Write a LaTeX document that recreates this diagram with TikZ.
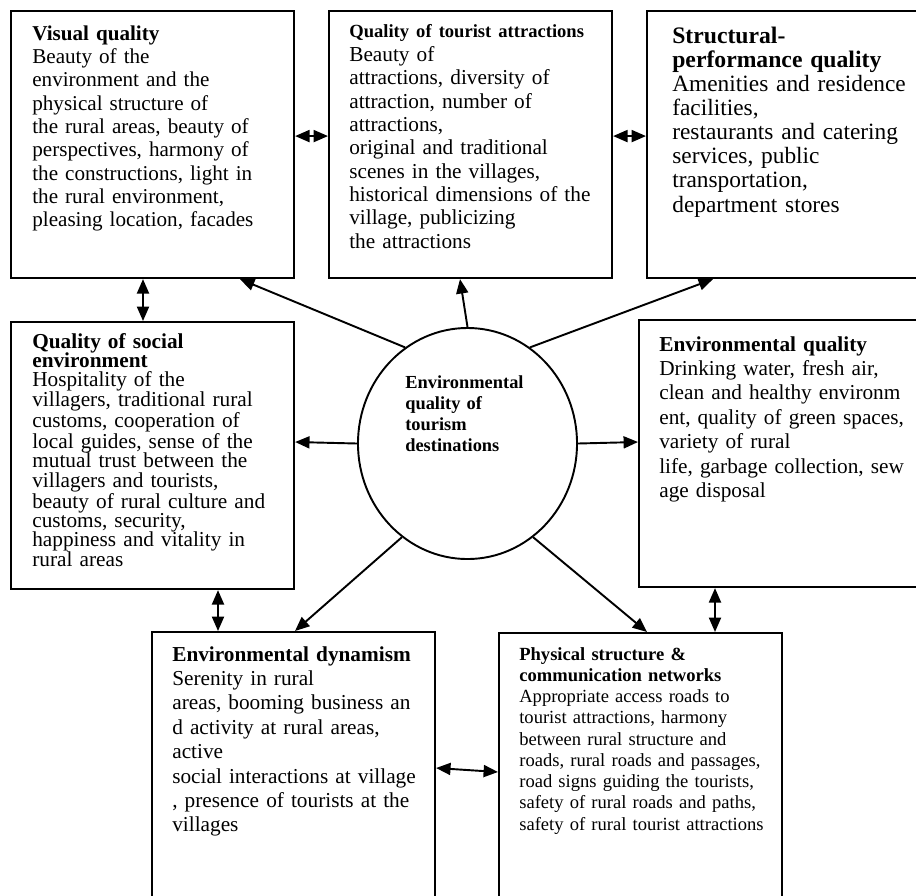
\documentclass[tikz,border=0pt]{standalone}
\usepackage{fontspec}
\setmainfont{Liberation Serif}
\usepackage{tikz}
\usetikzlibrary{arrows.meta,positioning,calc,shapes.geometric}

\begin{document}
\begin{tikzpicture}[
    x=0.625pt,y=-0.625pt,
    box/.style={rectangle,draw=black,line width=1.2pt,anchor=north west,minimum width=177pt,minimum height=167pt,inner sep=0pt},
    lowbox/.style={box,minimum height=190pt},
    hub/.style={ellipse,draw=black,line width=1.2pt,minimum width=136.9pt,minimum height=144.4pt,inner sep=0pt},
    txt/.style={anchor=base west,align=left,text width=172pt,inner sep=0pt},
    arrow/.style={-{Triangle[length=9pt,width=7.5pt]},line width=1.2pt},
    twoway/.style={{Triangle[length=9pt,width=7.5pt]}-{Triangle[length=9pt,width=7.5pt]},line width=1.2pt}
]
\useasboundingbox (0,0) rectangle (916,895);
\clip (0,0) rectangle (916,895);
\fill[white] (0,0) rectangle (916,895);

% Boxes
\node[box] (vis) at (10,10) {};
\node[box] (att) at (328,10) {};
\node[box] (str) at (646,10) {};
\node[box] (soc) at (10,321) {};
\node[box] (env) at (638,319) {};
\node[lowbox] (dyn) at (151,631) {};
\node[lowbox] (phy) at (498,632) {};

% Centre
\node[hub] (ctr) at (467.5,443.5) {};
\node[txt,font=\fontsize{11.5}{13.3}\selectfont\bfseries] (ctrtext) at (405,388)
  {Environmental\\quality of\\tourism\\destinations};

% Texts
\node[txt,font=\fontsize{13.2}{14.6}\selectfont] (vistext) at ($(vis.north west)+(22,30)$)
  {\textbf{Visual quality}\\
   Beauty of the\\
   environment and the\\
   physical structure of\\
   the rural areas, beauty of\\
   perspectives, harmony of\\
   the constructions, light in\\
   the rural environment,\\
   pleasing location, facades};

\node[txt,font=\fontsize{13.3}{14.6}\selectfont] (atttext) at ($(att.north west)+(21,27)$)
  {{\fontsize{11.6}{13.6}\selectfont\bfseries Quality of tourist attractions}\\[0.6pt]
   Beauty of\\
   attractions, diversity of\\
   attraction, number of\\
   attractions,\\
   original and traditional\\
   scenes in the villages,\\
   historical dimensions of the\\
   village, publicizing\\
   the attractions};

\node[txt,font=\fontsize{14.6}{15.1}\selectfont] (strtext) at ($(str.north west)+(26,33)$)
  {{\fontsize{14.8}{15.1}\selectfont\bfseries Structural-\\performance quality}\\
   Amenities and residence\\
   facilities,\\
   restaurants and catering\\
   services, public\\
   transportation,\\
   department stores};

\node[txt,font=\fontsize{13.3}{12.1}\selectfont] (soctext) at ($(soc.north west)+(22,27)$)
  {\textbf{Quality of social}\\
   \textbf{environment}\\
   Hospitality of the\\
   villagers, traditional rural\\
   customs, cooperation of\\
   local guides, sense of the\\
   mutual trust between the\\
   villagers and tourists,\\
   beauty of rural culture and\\
   customs, security,\\
   happiness and vitality in\\
   rural areas};

\node[txt,font=\fontsize{13.3}{15.3}\selectfont] (envtext) at ($(env.north west)+(21,32)$)
  {\textbf{Environmental quality}\\
   Drinking water, fresh air,\\
   clean and healthy environm\\
   ent, quality of green spaces,\\
   variety of rural\\
   life, garbage collection, sew\\
   age disposal};

\node[txt,font=\fontsize{13.3}{15.25}\selectfont] (dyntext) at ($(dyn.north west)+(21,30)$)
  {\textbf{Environmental dynamism}\\
   Serenity in rural\\
   areas, booming business an\\
   d activity at rural areas,\\
   active\\
   social interactions at village\\
   , presence of tourists at the\\
   villages};

\node[txt,font=\fontsize{11.6}{13.3}\selectfont] (phytext) at ($(phy.north west)+(21,28)$)
  {\textbf{Physical structure \&}\\
   \textbf{communication networks}\\
   Appropriate access roads to\\
   tourist attractions, harmony\\
   between rural structure and\\
   roads, rural roads and passages,\\
   road signs guiding the tourists,\\
   safety of rural roads and paths,\\
   safety of rural tourist attractions};

% Arrows from the centre
\draw[arrow] (ctr.123) -- ($(vis.south west)+(230,0)$);
\draw[arrow] (ctr.north) -- ($(att.south west)+(132,0)$);
\draw[arrow] (ctr.57) -- ($(str.south west)+(67,0)$);
\draw[arrow] (ctr.west) -- ($(soc.north east)+(0,121)$);
\draw[arrow] (ctr.east) -- ($(env.north west)+(0,123)$);
\draw[arrow] (ctr.235) -- ($(dyn.north west)+(144,0)$);
\draw[arrow] (ctr.305) -- ($(phy.north west)+(149,0)$);

% Links between boxes
\draw[twoway] ($(vis.east)+(0,-8.5)$) -- ($(att.west)+(0,-8.5)$);
\draw[twoway] ($(att.east)+(0,-8.5)$) -- ($(str.west)+(0,-8.5)$);
\draw[twoway] ($(vis.south west)+(133,0)$) -- ($(soc.north west)+(133,0)$);
\draw[twoway] ($(soc.south west)+(208,0)$) -- ($(dyn.north west)+(67,0)$);
\draw[twoway] ($(env.south west)+(77,0)$) -- ($(phy.north west)+(217,0)$);
\draw[twoway] ($(dyn.north east)+(0,137)$) -- ($(phy.north west)+(0,140)$);
\end{tikzpicture}
\end{document}
